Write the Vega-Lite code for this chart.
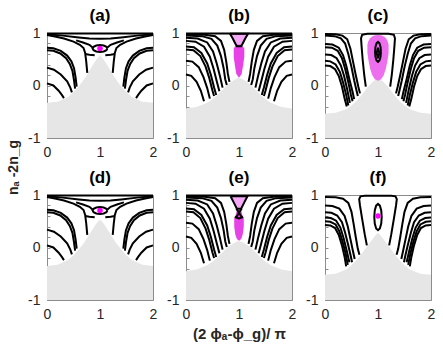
{
"$schema": "https://vega.github.io/schema/vega-lite/v6.json",
"padding": {"left": 5, "top": 6, "right": 0, "bottom": 0},
"autosize": {"type": "pad"},
"datasets": {
"grey": [
{"p":"a","x":0,"y":-0.33},{"p":"a","x":0.2,"y":-0.31},{"p":"a","x":0.4,"y":-0.22},{"p":"a","x":0.5,"y":-0.13},{"p":"a","x":0.6,"y":-0.02},{"p":"a","x":0.7,"y":0.12},{"p":"a","x":0.8,"y":0.28},{"p":"a","x":0.9,"y":0.45},{"p":"a","x":0.95,"y":0.52},{"p":"a","x":1,"y":0.57},{"p":"a","x":1.05,"y":0.52},{"p":"a","x":1.1,"y":0.45},{"p":"a","x":1.2,"y":0.28},{"p":"a","x":1.3,"y":0.12},{"p":"a","x":1.4,"y":-0.02},{"p":"a","x":1.5,"y":-0.13},{"p":"a","x":1.6,"y":-0.22},{"p":"a","x":1.8,"y":-0.31},{"p":"a","x":2,"y":-0.33},
{"p":"b","x":0,"y":-0.44},{"p":"b","x":0.2,"y":-0.41},{"p":"b","x":0.4,"y":-0.33},{"p":"b","x":0.5,"y":-0.26},{"p":"b","x":0.6,"y":-0.17},{"p":"b","x":0.7,"y":-0.07},{"p":"b","x":0.8,"y":0.03},{"p":"b","x":0.9,"y":0.1},{"p":"b","x":0.95,"y":0.13},{"p":"b","x":1,"y":0.15},{"p":"b","x":1.05,"y":0.13},{"p":"b","x":1.1,"y":0.1},{"p":"b","x":1.2,"y":0.03},{"p":"b","x":1.3,"y":-0.07},{"p":"b","x":1.4,"y":-0.17},{"p":"b","x":1.5,"y":-0.26},{"p":"b","x":1.6,"y":-0.33},{"p":"b","x":1.8,"y":-0.41},{"p":"b","x":2,"y":-0.44},
{"p":"c","x":0,"y":-0.54},{"p":"c","x":0.2,"y":-0.52},{"p":"c","x":0.4,"y":-0.45},{"p":"c","x":0.5,"y":-0.38},{"p":"c","x":0.6,"y":-0.29},{"p":"c","x":0.7,"y":-0.17},{"p":"c","x":0.8,"y":-0.04},{"p":"c","x":0.9,"y":0.07},{"p":"c","x":0.95,"y":0.11},{"p":"c","x":1,"y":0.13},{"p":"c","x":1.05,"y":0.11},{"p":"c","x":1.1,"y":0.07},{"p":"c","x":1.2,"y":-0.04},{"p":"c","x":1.3,"y":-0.17},{"p":"c","x":1.4,"y":-0.29},{"p":"c","x":1.5,"y":-0.38},{"p":"c","x":1.6,"y":-0.45},{"p":"c","x":1.8,"y":-0.52},{"p":"c","x":2,"y":-0.54},
{"p":"d","x":0,"y":-0.35},{"p":"d","x":0.2,"y":-0.33},{"p":"d","x":0.4,"y":-0.24},{"p":"d","x":0.5,"y":-0.15},{"p":"d","x":0.6,"y":-0.04},{"p":"d","x":0.7,"y":0.09},{"p":"d","x":0.8,"y":0.25},{"p":"d","x":0.9,"y":0.41},{"p":"d","x":0.95,"y":0.48},{"p":"d","x":1,"y":0.53},{"p":"d","x":1.05,"y":0.48},{"p":"d","x":1.1,"y":0.41},{"p":"d","x":1.2,"y":0.25},{"p":"d","x":1.3,"y":0.09},{"p":"d","x":1.4,"y":-0.04},{"p":"d","x":1.5,"y":-0.15},{"p":"d","x":1.6,"y":-0.24},{"p":"d","x":1.8,"y":-0.33},{"p":"d","x":2,"y":-0.35},
{"p":"e","x":0,"y":-0.45},{"p":"e","x":0.2,"y":-0.42},{"p":"e","x":0.4,"y":-0.34},{"p":"e","x":0.5,"y":-0.27},{"p":"e","x":0.6,"y":-0.18},{"p":"e","x":0.7,"y":-0.08},{"p":"e","x":0.8,"y":0.02},{"p":"e","x":0.9,"y":0.08},{"p":"e","x":0.95,"y":0.11},{"p":"e","x":1,"y":0.12},{"p":"e","x":1.05,"y":0.11},{"p":"e","x":1.1,"y":0.08},{"p":"e","x":1.2,"y":0.02},{"p":"e","x":1.3,"y":-0.08},{"p":"e","x":1.4,"y":-0.18},{"p":"e","x":1.5,"y":-0.27},{"p":"e","x":1.6,"y":-0.34},{"p":"e","x":1.8,"y":-0.42},{"p":"e","x":2,"y":-0.45},
{"p":"f","x":0,"y":-0.52},{"p":"f","x":0.2,"y":-0.5},{"p":"f","x":0.4,"y":-0.42},{"p":"f","x":0.5,"y":-0.34},{"p":"f","x":0.6,"y":-0.24},{"p":"f","x":0.7,"y":-0.11},{"p":"f","x":0.8,"y":0.03},{"p":"f","x":0.9,"y":0.16},{"p":"f","x":0.95,"y":0.23},{"p":"f","x":1,"y":0.28},{"p":"f","x":1.05,"y":0.23},{"p":"f","x":1.1,"y":0.16},{"p":"f","x":1.2,"y":0.03},{"p":"f","x":1.3,"y":-0.11},{"p":"f","x":1.4,"y":-0.24},{"p":"f","x":1.5,"y":-0.34},{"p":"f","x":1.6,"y":-0.42},{"p":"f","x":1.8,"y":-0.5},{"p":"f","x":2,"y":-0.52}
],
"pink": [
{"p":"b","part":"light","x":0.85,"y":0.95,"y2":0.98},{"p":"b","part":"light","x":0.88,"y":0.89,"y2":0.98},{"p":"b","part":"light","x":0.92,"y":0.82,"y2":0.98},{"p":"b","part":"light","x":0.96,"y":0.76,"y2":0.98},{"p":"b","part":"light","x":1,"y":0.75,"y2":0.98},{"p":"b","part":"light","x":1.04,"y":0.76,"y2":0.98},{"p":"b","part":"light","x":1.08,"y":0.82,"y2":0.98},{"p":"b","part":"light","x":1.12,"y":0.89,"y2":0.98},{"p":"b","part":"light","x":1.15,"y":0.95,"y2":0.98},
{"p":"b","part":"dense","x":0.9,"y":0.55,"y2":0.7},{"p":"b","part":"dense","x":0.92,"y":0.4,"y2":0.74},{"p":"b","part":"dense","x":0.95,"y":0.22,"y2":0.77},{"p":"b","part":"dense","x":1,"y":0.15,"y2":0.78},{"p":"b","part":"dense","x":1.05,"y":0.22,"y2":0.77},{"p":"b","part":"dense","x":1.08,"y":0.4,"y2":0.74},{"p":"b","part":"dense","x":1.1,"y":0.55,"y2":0.7},
{"p":"c","part":"mid","x":0.8,"y":0.62,"y2":0.78},{"p":"c","part":"mid","x":0.82,"y":0.48,"y2":0.85},{"p":"c","part":"mid","x":0.85,"y":0.33,"y2":0.9},{"p":"c","part":"mid","x":0.89,"y":0.2,"y2":0.935},{"p":"c","part":"mid","x":0.94,"y":0.12,"y2":0.955},{"p":"c","part":"mid","x":1,"y":0.09,"y2":0.96},{"p":"c","part":"mid","x":1.06,"y":0.12,"y2":0.955},{"p":"c","part":"mid","x":1.11,"y":0.2,"y2":0.935},{"p":"c","part":"mid","x":1.15,"y":0.33,"y2":0.9},{"p":"c","part":"mid","x":1.18,"y":0.48,"y2":0.85},{"p":"c","part":"mid","x":1.2,"y":0.62,"y2":0.78},
{"p":"e","part":"light","x":0.86,"y":0.94,"y2":0.97},{"p":"e","part":"light","x":0.9,"y":0.86,"y2":0.97},{"p":"e","part":"light","x":0.95,"y":0.76,"y2":0.97},{"p":"e","part":"light","x":1,"y":0.74,"y2":0.97},{"p":"e","part":"light","x":1.05,"y":0.76,"y2":0.97},{"p":"e","part":"light","x":1.1,"y":0.86,"y2":0.97},{"p":"e","part":"light","x":1.14,"y":0.94,"y2":0.97},
{"p":"e","part":"dense","x":0.91,"y":0.4,"y2":0.55},{"p":"e","part":"dense","x":0.93,"y":0.25,"y2":0.6},{"p":"e","part":"dense","x":0.96,"y":0.16,"y2":0.7},{"p":"e","part":"dense","x":1,"y":0.13,"y2":0.72},{"p":"e","part":"dense","x":1.04,"y":0.16,"y2":0.7},{"p":"e","part":"dense","x":1.07,"y":0.25,"y2":0.6},{"p":"e","part":"dense","x":1.09,"y":0.4,"y2":0.55}
],
"dots": [{"p":"ad","x":1,"y":0.705},{"p":"f","x":1,"y":0.6}],
"curves": [
{"p":"ad","c":"top","x":0,"y":0.99},{"p":"ad","c":"top","x":2,"y":0.99},
{"p":"ad","c":"arc","x":0,"y":0.975},{"p":"ad","c":"arc","x":0.3,"y":0.95},{"p":"ad","c":"arc","x":0.6,"y":0.915},{"p":"ad","c":"arc","x":0.8,"y":0.895},{"p":"ad","c":"arc","x":1,"y":0.89},{"p":"ad","c":"arc","x":1.2,"y":0.895},{"p":"ad","c":"arc","x":1.4,"y":0.915},{"p":"ad","c":"arc","x":1.7,"y":0.95},{"p":"ad","c":"arc","x":2,"y":0.975},
{"p":"ad","c":"sepL","x":0,"y":0.96},{"p":"ad","c":"sepL","x":0.15,"y":0.935},{"p":"ad","c":"sepL","x":0.32,"y":0.895},{"p":"ad","c":"sepL","x":0.5,"y":0.835},{"p":"ad","c":"sepL","x":0.62,"y":0.775},{"p":"ad","c":"sepL","x":0.69,"y":0.715},{"p":"ad","c":"sepL","x":0.72,"y":0.62},{"p":"ad","c":"sepL","x":0.74,"y":0.46},{"p":"ad","c":"sepL","x":0.76,"y":0.24},
{"p":"ad","c":"sepR","x":2,"y":0.96},{"p":"ad","c":"sepR","x":1.85,"y":0.935},{"p":"ad","c":"sepR","x":1.68,"y":0.895},{"p":"ad","c":"sepR","x":1.5,"y":0.835},{"p":"ad","c":"sepR","x":1.38,"y":0.775},{"p":"ad","c":"sepR","x":1.31,"y":0.715},{"p":"ad","c":"sepR","x":1.28,"y":0.62},{"p":"ad","c":"sepR","x":1.26,"y":0.46},{"p":"ad","c":"sepR","x":1.24,"y":0.24},
{"p":"ad","c":"wingL","x":0.55,"y":0.86},{"p":"ad","c":"wingL","x":0.68,"y":0.82},{"p":"ad","c":"wingL","x":0.8,"y":0.775},{"p":"ad","c":"wingL","x":0.86,"y":0.725},
{"p":"ad","c":"wingR","x":1.45,"y":0.86},{"p":"ad","c":"wingR","x":1.32,"y":0.82},{"p":"ad","c":"wingR","x":1.2,"y":0.775},{"p":"ad","c":"wingR","x":1.14,"y":0.725},
{"p":"ad","c":"lowL","x":0.72,"y":0.6},{"p":"ad","c":"lowL","x":0.8,"y":0.585},{"p":"ad","c":"lowL","x":0.9,"y":0.575},
{"p":"ad","c":"lowR","x":1.28,"y":0.6},{"p":"ad","c":"lowR","x":1.2,"y":0.585},{"p":"ad","c":"lowR","x":1.1,"y":0.575},
{"p":"ad","c":"eye","x":1.14,"y":0.705},{"p":"ad","c":"eye","x":1.121,"y":0.738},{"p":"ad","c":"eye","x":1.07,"y":0.761},{"p":"ad","c":"eye","x":1,"y":0.77},{"p":"ad","c":"eye","x":0.93,"y":0.761},{"p":"ad","c":"eye","x":0.879,"y":0.738},{"p":"ad","c":"eye","x":0.86,"y":0.705},{"p":"ad","c":"eye","x":0.879,"y":0.673},{"p":"ad","c":"eye","x":0.93,"y":0.649},{"p":"ad","c":"eye","x":1,"y":0.64},{"p":"ad","c":"eye","x":1.07,"y":0.649},{"p":"ad","c":"eye","x":1.121,"y":0.673},{"p":"ad","c":"eye","x":1.14,"y":0.705},
{"p":"ad","c":"L1","x":0,"y":0.72},{"p":"ad","c":"L1","x":0.12,"y":0.71},{"p":"ad","c":"L1","x":0.26,"y":0.66},{"p":"ad","c":"L1","x":0.38,"y":0.57},{"p":"ad","c":"L1","x":0.46,"y":0.46},{"p":"ad","c":"L1","x":0.51,"y":0.33},{"p":"ad","c":"L1","x":0.54,"y":0.15},{"p":"ad","c":"L1","x":0.56,"y":-0.02},
{"p":"ad","c":"L2","x":0,"y":0.67},{"p":"ad","c":"L2","x":0.12,"y":0.66},{"p":"ad","c":"L2","x":0.25,"y":0.61},{"p":"ad","c":"L2","x":0.36,"y":0.52},{"p":"ad","c":"L2","x":0.43,"y":0.41},{"p":"ad","c":"L2","x":0.48,"y":0.28},{"p":"ad","c":"L2","x":0.51,"y":0.1},{"p":"ad","c":"L2","x":0.53,"y":-0.06},
{"p":"ad","c":"L3","x":0,"y":0.34},{"p":"ad","c":"L3","x":0.13,"y":0.3},{"p":"ad","c":"L3","x":0.26,"y":0.21},{"p":"ad","c":"L3","x":0.38,"y":0.08},{"p":"ad","c":"L3","x":0.44,"y":-0.04},{"p":"ad","c":"L3","x":0.47,"y":-0.13},
{"p":"ad","c":"L4","x":0,"y":0.04},{"p":"ad","c":"L4","x":0.12,"y":0},{"p":"ad","c":"L4","x":0.22,"y":-0.1},{"p":"ad","c":"L4","x":0.28,"y":-0.18},{"p":"ad","c":"L4","x":0.32,"y":-0.24},
{"p":"ad","c":"R1","x":2,"y":0.72},{"p":"ad","c":"R1","x":1.88,"y":0.71},{"p":"ad","c":"R1","x":1.74,"y":0.66},{"p":"ad","c":"R1","x":1.62,"y":0.57},{"p":"ad","c":"R1","x":1.54,"y":0.46},{"p":"ad","c":"R1","x":1.49,"y":0.33},{"p":"ad","c":"R1","x":1.46,"y":0.15},{"p":"ad","c":"R1","x":1.44,"y":-0.02},
{"p":"ad","c":"R2","x":2,"y":0.67},{"p":"ad","c":"R2","x":1.88,"y":0.66},{"p":"ad","c":"R2","x":1.75,"y":0.61},{"p":"ad","c":"R2","x":1.64,"y":0.52},{"p":"ad","c":"R2","x":1.57,"y":0.41},{"p":"ad","c":"R2","x":1.52,"y":0.28},{"p":"ad","c":"R2","x":1.49,"y":0.1},{"p":"ad","c":"R2","x":1.47,"y":-0.06},
{"p":"ad","c":"R3","x":2,"y":0.34},{"p":"ad","c":"R3","x":1.87,"y":0.3},{"p":"ad","c":"R3","x":1.74,"y":0.21},{"p":"ad","c":"R3","x":1.62,"y":0.08},{"p":"ad","c":"R3","x":1.56,"y":-0.04},{"p":"ad","c":"R3","x":1.53,"y":-0.13},
{"p":"ad","c":"R4","x":2,"y":0.04},{"p":"ad","c":"R4","x":1.88,"y":0},{"p":"ad","c":"R4","x":1.78,"y":-0.1},{"p":"ad","c":"R4","x":1.72,"y":-0.18},{"p":"ad","c":"R4","x":1.68,"y":-0.24},
{"p":"be","c":"top","x":0,"y":0.99},{"p":"be","c":"top","x":2,"y":0.99},
{"p":"be","c":"b1","x":0,"y":0.975},{"p":"be","c":"b1","x":0.35,"y":0.965},{"p":"be","c":"b1","x":0.55,"y":0.94},{"p":"be","c":"b1","x":0.66,"y":0.85},{"p":"be","c":"b1","x":0.72,"y":0.68},{"p":"be","c":"b1","x":0.76,"y":0.45},{"p":"be","c":"b1","x":0.79,"y":0.22},{"p":"be","c":"b1","x":0.82,"y":0.07},
{"p":"be","c":"b2","x":0,"y":0.95},{"p":"be","c":"b2","x":0.3,"y":0.94},{"p":"be","c":"b2","x":0.48,"y":0.89},{"p":"be","c":"b2","x":0.59,"y":0.76},{"p":"be","c":"b2","x":0.66,"y":0.56},{"p":"be","c":"b2","x":0.71,"y":0.33},{"p":"be","c":"b2","x":0.74,"y":0.12},{"p":"be","c":"b2","x":0.77,"y":0.01},
{"p":"be","c":"b3","x":0,"y":0.91},{"p":"be","c":"b3","x":0.22,"y":0.895},{"p":"be","c":"b3","x":0.4,"y":0.82},{"p":"be","c":"b3","x":0.51,"y":0.65},{"p":"be","c":"b3","x":0.58,"y":0.42},{"p":"be","c":"b3","x":0.64,"y":0.18},{"p":"be","c":"b3","x":0.69,"y":-0.04},
{"p":"be","c":"b4","x":0,"y":0.85},{"p":"be","c":"b4","x":0.18,"y":0.835},{"p":"be","c":"b4","x":0.34,"y":0.74},{"p":"be","c":"b4","x":0.45,"y":0.55},{"p":"be","c":"b4","x":0.52,"y":0.32},{"p":"be","c":"b4","x":0.58,"y":0.08},{"p":"be","c":"b4","x":0.63,"y":-0.11},
{"p":"be","c":"b5","x":0,"y":0.745},{"p":"be","c":"b5","x":0.15,"y":0.73},{"p":"be","c":"b5","x":0.29,"y":0.62},{"p":"be","c":"b5","x":0.4,"y":0.42},{"p":"be","c":"b5","x":0.47,"y":0.2},{"p":"be","c":"b5","x":0.53,"y":-0.04},{"p":"be","c":"b5","x":0.57,"y":-0.18},
{"p":"be","c":"b6","x":0,"y":0.685},{"p":"be","c":"b6","x":0.14,"y":0.67},{"p":"be","c":"b6","x":0.27,"y":0.56},{"p":"be","c":"b6","x":0.37,"y":0.36},{"p":"be","c":"b6","x":0.44,"y":0.14},{"p":"be","c":"b6","x":0.5,"y":-0.1},{"p":"be","c":"b6","x":0.53,"y":-0.2},
{"p":"be","c":"b7","x":0,"y":0.47},{"p":"be","c":"b7","x":0.12,"y":0.455},{"p":"be","c":"b7","x":0.24,"y":0.35},{"p":"be","c":"b7","x":0.33,"y":0.16},{"p":"be","c":"b7","x":0.4,"y":-0.05},{"p":"be","c":"b7","x":0.45,"y":-0.25},
{"p":"be","c":"b8","x":0,"y":0.21},{"p":"be","c":"b8","x":0.1,"y":0.185},{"p":"be","c":"b8","x":0.2,"y":0.07},{"p":"be","c":"b8","x":0.28,"y":-0.1},{"p":"be","c":"b8","x":0.34,"y":-0.3},
{"p":"be","c":"B1","x":2,"y":0.975},{"p":"be","c":"B1","x":1.65,"y":0.965},{"p":"be","c":"B1","x":1.45,"y":0.94},{"p":"be","c":"B1","x":1.34,"y":0.85},{"p":"be","c":"B1","x":1.28,"y":0.68},{"p":"be","c":"B1","x":1.24,"y":0.45},{"p":"be","c":"B1","x":1.21,"y":0.22},{"p":"be","c":"B1","x":1.18,"y":0.07},
{"p":"be","c":"B2","x":2,"y":0.95},{"p":"be","c":"B2","x":1.7,"y":0.94},{"p":"be","c":"B2","x":1.52,"y":0.89},{"p":"be","c":"B2","x":1.41,"y":0.76},{"p":"be","c":"B2","x":1.34,"y":0.56},{"p":"be","c":"B2","x":1.29,"y":0.33},{"p":"be","c":"B2","x":1.26,"y":0.12},{"p":"be","c":"B2","x":1.23,"y":0.01},
{"p":"be","c":"B3","x":2,"y":0.91},{"p":"be","c":"B3","x":1.78,"y":0.895},{"p":"be","c":"B3","x":1.6,"y":0.82},{"p":"be","c":"B3","x":1.49,"y":0.65},{"p":"be","c":"B3","x":1.42,"y":0.42},{"p":"be","c":"B3","x":1.36,"y":0.18},{"p":"be","c":"B3","x":1.31,"y":-0.04},
{"p":"be","c":"B4","x":2,"y":0.85},{"p":"be","c":"B4","x":1.82,"y":0.835},{"p":"be","c":"B4","x":1.66,"y":0.74},{"p":"be","c":"B4","x":1.55,"y":0.55},{"p":"be","c":"B4","x":1.48,"y":0.32},{"p":"be","c":"B4","x":1.42,"y":0.08},{"p":"be","c":"B4","x":1.37,"y":-0.11},
{"p":"be","c":"B5","x":2,"y":0.745},{"p":"be","c":"B5","x":1.85,"y":0.73},{"p":"be","c":"B5","x":1.71,"y":0.62},{"p":"be","c":"B5","x":1.6,"y":0.42},{"p":"be","c":"B5","x":1.53,"y":0.2},{"p":"be","c":"B5","x":1.47,"y":-0.04},{"p":"be","c":"B5","x":1.43,"y":-0.18},
{"p":"be","c":"B6","x":2,"y":0.685},{"p":"be","c":"B6","x":1.86,"y":0.67},{"p":"be","c":"B6","x":1.73,"y":0.56},{"p":"be","c":"B6","x":1.63,"y":0.36},{"p":"be","c":"B6","x":1.56,"y":0.14},{"p":"be","c":"B6","x":1.5,"y":-0.1},{"p":"be","c":"B6","x":1.47,"y":-0.2},
{"p":"be","c":"B7","x":2,"y":0.47},{"p":"be","c":"B7","x":1.88,"y":0.455},{"p":"be","c":"B7","x":1.76,"y":0.35},{"p":"be","c":"B7","x":1.67,"y":0.16},{"p":"be","c":"B7","x":1.6,"y":-0.05},{"p":"be","c":"B7","x":1.55,"y":-0.25},
{"p":"be","c":"B8","x":2,"y":0.21},{"p":"be","c":"B8","x":1.9,"y":0.185},{"p":"be","c":"B8","x":1.8,"y":0.07},{"p":"be","c":"B8","x":1.72,"y":-0.1},{"p":"be","c":"B8","x":1.66,"y":-0.3},
{"p":"b","c":"cup","x":0.83,"y":0.985},{"p":"b","c":"cup","x":0.88,"y":0.9},{"p":"b","c":"cup","x":0.93,"y":0.8},{"p":"b","c":"cup","x":0.96,"y":0.75},{"p":"b","c":"cup","x":1.04,"y":0.75},{"p":"b","c":"cup","x":1.07,"y":0.8},{"p":"b","c":"cup","x":1.12,"y":0.9},{"p":"b","c":"cup","x":1.17,"y":0.985},{"p":"b","c":"cup","x":0.83,"y":0.985},
{"p":"e","c":"tri","x":0.84,"y":0.975},{"p":"e","c":"tri","x":0.9,"y":0.86},{"p":"e","c":"tri","x":0.96,"y":0.74},{"p":"e","c":"tri","x":1.04,"y":0.74},{"p":"e","c":"tri","x":1.1,"y":0.86},{"p":"e","c":"tri","x":1.16,"y":0.975},{"p":"e","c":"tri","x":0.84,"y":0.975},
{"p":"e","c":"x1","x":0.95,"y":0.74},{"p":"e","c":"x1","x":1.05,"y":0.58},
{"p":"e","c":"x2","x":1.05,"y":0.74},{"p":"e","c":"x2","x":0.95,"y":0.58},
{"p":"e","c":"arc","x":0.92,"y":0.58},{"p":"e","c":"arc","x":1,"y":0.555},{"p":"e","c":"arc","x":1.08,"y":0.58},
{"p":"c","c":"c1","x":0,"y":0.98},{"p":"c","c":"c1","x":0.2,"y":0.975},{"p":"c","c":"c1","x":0.33,"y":0.95},{"p":"c","c":"c1","x":0.42,"y":0.88},{"p":"c","c":"c1","x":0.48,"y":0.7},{"p":"c","c":"c1","x":0.53,"y":0.45},{"p":"c","c":"c1","x":0.58,"y":0.2},{"p":"c","c":"c1","x":0.63,"y":-0.03},{"p":"c","c":"c1","x":0.66,"y":-0.15},
{"p":"c","c":"c2","x":0,"y":0.95},{"p":"c","c":"c2","x":0.18,"y":0.94},{"p":"c","c":"c2","x":0.3,"y":0.9},{"p":"c","c":"c2","x":0.38,"y":0.8},{"p":"c","c":"c2","x":0.44,"y":0.6},{"p":"c","c":"c2","x":0.5,"y":0.35},{"p":"c","c":"c2","x":0.55,"y":0.1},{"p":"c","c":"c2","x":0.6,"y":-0.12},{"p":"c","c":"c2","x":0.62,"y":-0.2},
{"p":"c","c":"c3","x":0,"y":0.79},{"p":"c","c":"c3","x":0.14,"y":0.78},{"p":"c","c":"c3","x":0.26,"y":0.72},{"p":"c","c":"c3","x":0.34,"y":0.58},{"p":"c","c":"c3","x":0.4,"y":0.38},{"p":"c","c":"c3","x":0.46,"y":0.12},{"p":"c","c":"c3","x":0.52,"y":-0.12},{"p":"c","c":"c3","x":0.55,"y":-0.26},
{"p":"c","c":"c4","x":0,"y":0.73},{"p":"c","c":"c4","x":0.13,"y":0.72},{"p":"c","c":"c4","x":0.24,"y":0.66},{"p":"c","c":"c4","x":0.32,"y":0.52},{"p":"c","c":"c4","x":0.38,"y":0.32},{"p":"c","c":"c4","x":0.44,"y":0.06},{"p":"c","c":"c4","x":0.49,"y":-0.18},{"p":"c","c":"c4","x":0.52,"y":-0.3},
{"p":"c","c":"c5","x":0,"y":0.59},{"p":"c","c":"c5","x":0.12,"y":0.58},{"p":"c","c":"c5","x":0.22,"y":0.52},{"p":"c","c":"c5","x":0.3,"y":0.38},{"p":"c","c":"c5","x":0.36,"y":0.18},{"p":"c","c":"c5","x":0.42,"y":-0.08},{"p":"c","c":"c5","x":0.47,"y":-0.33},
{"p":"c","c":"c6","x":0,"y":0.47},{"p":"c","c":"c6","x":0.1,"y":0.46},{"p":"c","c":"c6","x":0.2,"y":0.4},{"p":"c","c":"c6","x":0.28,"y":0.26},{"p":"c","c":"c6","x":0.34,"y":0.06},{"p":"c","c":"c6","x":0.4,"y":-0.18},{"p":"c","c":"c6","x":0.44,"y":-0.38},
{"p":"c","c":"c7","x":0,"y":0.38},{"p":"c","c":"c7","x":0.1,"y":0.37},{"p":"c","c":"c7","x":0.19,"y":0.31},{"p":"c","c":"c7","x":0.26,"y":0.18},{"p":"c","c":"c7","x":0.32,"y":-0.02},{"p":"c","c":"c7","x":0.37,"y":-0.25},{"p":"c","c":"c7","x":0.41,"y":-0.4},
{"p":"c","c":"C1","x":2,"y":0.98},{"p":"c","c":"C1","x":1.8,"y":0.975},{"p":"c","c":"C1","x":1.67,"y":0.95},{"p":"c","c":"C1","x":1.58,"y":0.88},{"p":"c","c":"C1","x":1.52,"y":0.7},{"p":"c","c":"C1","x":1.47,"y":0.45},{"p":"c","c":"C1","x":1.42,"y":0.2},{"p":"c","c":"C1","x":1.37,"y":-0.03},{"p":"c","c":"C1","x":1.34,"y":-0.15},
{"p":"c","c":"C2","x":2,"y":0.95},{"p":"c","c":"C2","x":1.82,"y":0.94},{"p":"c","c":"C2","x":1.7,"y":0.9},{"p":"c","c":"C2","x":1.62,"y":0.8},{"p":"c","c":"C2","x":1.56,"y":0.6},{"p":"c","c":"C2","x":1.5,"y":0.35},{"p":"c","c":"C2","x":1.45,"y":0.1},{"p":"c","c":"C2","x":1.4,"y":-0.12},{"p":"c","c":"C2","x":1.38,"y":-0.2},
{"p":"c","c":"C3","x":2,"y":0.79},{"p":"c","c":"C3","x":1.86,"y":0.78},{"p":"c","c":"C3","x":1.74,"y":0.72},{"p":"c","c":"C3","x":1.66,"y":0.58},{"p":"c","c":"C3","x":1.6,"y":0.38},{"p":"c","c":"C3","x":1.54,"y":0.12},{"p":"c","c":"C3","x":1.48,"y":-0.12},{"p":"c","c":"C3","x":1.45,"y":-0.26},
{"p":"c","c":"C4","x":2,"y":0.73},{"p":"c","c":"C4","x":1.87,"y":0.72},{"p":"c","c":"C4","x":1.76,"y":0.66},{"p":"c","c":"C4","x":1.68,"y":0.52},{"p":"c","c":"C4","x":1.62,"y":0.32},{"p":"c","c":"C4","x":1.56,"y":0.06},{"p":"c","c":"C4","x":1.51,"y":-0.18},{"p":"c","c":"C4","x":1.48,"y":-0.3},
{"p":"c","c":"C5","x":2,"y":0.59},{"p":"c","c":"C5","x":1.88,"y":0.58},{"p":"c","c":"C5","x":1.78,"y":0.52},{"p":"c","c":"C5","x":1.7,"y":0.38},{"p":"c","c":"C5","x":1.64,"y":0.18},{"p":"c","c":"C5","x":1.58,"y":-0.08},{"p":"c","c":"C5","x":1.53,"y":-0.33},
{"p":"c","c":"C6","x":2,"y":0.47},{"p":"c","c":"C6","x":1.9,"y":0.46},{"p":"c","c":"C6","x":1.8,"y":0.4},{"p":"c","c":"C6","x":1.72,"y":0.26},{"p":"c","c":"C6","x":1.66,"y":0.06},{"p":"c","c":"C6","x":1.6,"y":-0.18},{"p":"c","c":"C6","x":1.56,"y":-0.38},
{"p":"c","c":"C7","x":2,"y":0.38},{"p":"c","c":"C7","x":1.9,"y":0.37},{"p":"c","c":"C7","x":1.81,"y":0.31},{"p":"c","c":"C7","x":1.74,"y":0.18},{"p":"c","c":"C7","x":1.68,"y":-0.02},{"p":"c","c":"C7","x":1.63,"y":-0.25},{"p":"c","c":"C7","x":1.59,"y":-0.4},
{"p":"c","c":"U","x":0.77,"y":-0.02},{"p":"c","c":"U","x":0.74,"y":0.2},{"p":"c","c":"U","x":0.71,"y":0.5},{"p":"c","c":"U","x":0.69,"y":0.75},{"p":"c","c":"U","x":0.68,"y":0.9},{"p":"c","c":"U","x":0.7,"y":0.965},{"p":"c","c":"U","x":0.8,"y":0.985},{"p":"c","c":"U","x":1.2,"y":0.985},{"p":"c","c":"U","x":1.3,"y":0.965},{"p":"c","c":"U","x":1.32,"y":0.9},{"p":"c","c":"U","x":1.31,"y":0.75},{"p":"c","c":"U","x":1.29,"y":0.5},{"p":"c","c":"U","x":1.26,"y":0.2},{"p":"c","c":"U","x":1.23,"y":-0.02},
{"p":"c","c":"loop1","x":1.055,"y":0.64},{"p":"c","c":"loop1","x":1.048,"y":0.735},{"p":"c","c":"loop1","x":1.028,"y":0.805},{"p":"c","c":"loop1","x":1,"y":0.83},{"p":"c","c":"loop1","x":0.972,"y":0.805},{"p":"c","c":"loop1","x":0.952,"y":0.735},{"p":"c","c":"loop1","x":0.945,"y":0.64},{"p":"c","c":"loop1","x":0.952,"y":0.545},{"p":"c","c":"loop1","x":0.972,"y":0.475},{"p":"c","c":"loop1","x":1,"y":0.45},{"p":"c","c":"loop1","x":1.028,"y":0.475},{"p":"c","c":"loop1","x":1.048,"y":0.545},{"p":"c","c":"loop1","x":1.055,"y":0.64},
{"p":"c","c":"loop2","x":1.025,"y":0.62},{"p":"c","c":"loop2","x":1,"y":0.72},{"p":"c","c":"loop2","x":0.975,"y":0.62},{"p":"c","c":"loop2","x":1,"y":0.52},{"p":"c","c":"loop2","x":1.025,"y":0.62},
{"p":"f","c":"f1","x":0,"y":0.96},{"p":"f","c":"f1","x":0.2,"y":0.955},{"p":"f","c":"f1","x":0.34,"y":0.93},{"p":"f","c":"f1","x":0.44,"y":0.85},{"p":"f","c":"f1","x":0.5,"y":0.68},{"p":"f","c":"f1","x":0.54,"y":0.45},{"p":"f","c":"f1","x":0.58,"y":0.2},{"p":"f","c":"f1","x":0.62,"y":-0.03},{"p":"f","c":"f1","x":0.65,"y":-0.14},
{"p":"f","c":"f2","x":0,"y":0.8},{"p":"f","c":"f2","x":0.14,"y":0.79},{"p":"f","c":"f2","x":0.27,"y":0.74},{"p":"f","c":"f2","x":0.37,"y":0.6},{"p":"f","c":"f2","x":0.43,"y":0.4},{"p":"f","c":"f2","x":0.48,"y":0.16},{"p":"f","c":"f2","x":0.53,"y":-0.08},{"p":"f","c":"f2","x":0.56,"y":-0.22},
{"p":"f","c":"f3","x":0,"y":0.67},{"p":"f","c":"f3","x":0.12,"y":0.66},{"p":"f","c":"f3","x":0.23,"y":0.61},{"p":"f","c":"f3","x":0.32,"y":0.48},{"p":"f","c":"f3","x":0.38,"y":0.28},{"p":"f","c":"f3","x":0.44,"y":0.04},{"p":"f","c":"f3","x":0.49,"y":-0.18},{"p":"f","c":"f3","x":0.51,"y":-0.28},
{"p":"f","c":"f4","x":0,"y":0.57},{"p":"f","c":"f4","x":0.11,"y":0.56},{"p":"f","c":"f4","x":0.21,"y":0.51},{"p":"f","c":"f4","x":0.29,"y":0.38},{"p":"f","c":"f4","x":0.35,"y":0.18},{"p":"f","c":"f4","x":0.41,"y":-0.06},{"p":"f","c":"f4","x":0.46,"y":-0.28},
{"p":"f","c":"f5","x":0,"y":0.5},{"p":"f","c":"f5","x":0.1,"y":0.49},{"p":"f","c":"f5","x":0.2,"y":0.44},{"p":"f","c":"f5","x":0.27,"y":0.31},{"p":"f","c":"f5","x":0.33,"y":0.12},{"p":"f","c":"f5","x":0.39,"y":-0.12},{"p":"f","c":"f5","x":0.43,"y":-0.33},
{"p":"f","c":"f6","x":0,"y":0.43},{"p":"f","c":"f6","x":0.1,"y":0.42},{"p":"f","c":"f6","x":0.19,"y":0.37},{"p":"f","c":"f6","x":0.26,"y":0.24},{"p":"f","c":"f6","x":0.32,"y":0.04},{"p":"f","c":"f6","x":0.37,"y":-0.18},{"p":"f","c":"f6","x":0.4,"y":-0.36},
{"p":"f","c":"F1","x":2,"y":0.96},{"p":"f","c":"F1","x":1.8,"y":0.955},{"p":"f","c":"F1","x":1.66,"y":0.93},{"p":"f","c":"F1","x":1.56,"y":0.85},{"p":"f","c":"F1","x":1.5,"y":0.68},{"p":"f","c":"F1","x":1.46,"y":0.45},{"p":"f","c":"F1","x":1.42,"y":0.2},{"p":"f","c":"F1","x":1.38,"y":-0.03},{"p":"f","c":"F1","x":1.35,"y":-0.14},
{"p":"f","c":"F2","x":2,"y":0.8},{"p":"f","c":"F2","x":1.86,"y":0.79},{"p":"f","c":"F2","x":1.73,"y":0.74},{"p":"f","c":"F2","x":1.63,"y":0.6},{"p":"f","c":"F2","x":1.57,"y":0.4},{"p":"f","c":"F2","x":1.52,"y":0.16},{"p":"f","c":"F2","x":1.47,"y":-0.08},{"p":"f","c":"F2","x":1.44,"y":-0.22},
{"p":"f","c":"F3","x":2,"y":0.67},{"p":"f","c":"F3","x":1.88,"y":0.66},{"p":"f","c":"F3","x":1.77,"y":0.61},{"p":"f","c":"F3","x":1.68,"y":0.48},{"p":"f","c":"F3","x":1.62,"y":0.28},{"p":"f","c":"F3","x":1.56,"y":0.04},{"p":"f","c":"F3","x":1.51,"y":-0.18},{"p":"f","c":"F3","x":1.49,"y":-0.28},
{"p":"f","c":"F4","x":2,"y":0.57},{"p":"f","c":"F4","x":1.89,"y":0.56},{"p":"f","c":"F4","x":1.79,"y":0.51},{"p":"f","c":"F4","x":1.71,"y":0.38},{"p":"f","c":"F4","x":1.65,"y":0.18},{"p":"f","c":"F4","x":1.59,"y":-0.06},{"p":"f","c":"F4","x":1.54,"y":-0.28},
{"p":"f","c":"F5","x":2,"y":0.5},{"p":"f","c":"F5","x":1.9,"y":0.49},{"p":"f","c":"F5","x":1.8,"y":0.44},{"p":"f","c":"F5","x":1.73,"y":0.31},{"p":"f","c":"F5","x":1.67,"y":0.12},{"p":"f","c":"F5","x":1.61,"y":-0.12},{"p":"f","c":"F5","x":1.57,"y":-0.33},
{"p":"f","c":"F6","x":2,"y":0.43},{"p":"f","c":"F6","x":1.9,"y":0.42},{"p":"f","c":"F6","x":1.81,"y":0.37},{"p":"f","c":"F6","x":1.74,"y":0.24},{"p":"f","c":"F6","x":1.68,"y":0.04},{"p":"f","c":"F6","x":1.63,"y":-0.18},{"p":"f","c":"F6","x":1.6,"y":-0.36},
{"p":"f","c":"U","x":0.79,"y":0.04},{"p":"f","c":"U","x":0.75,"y":0.25},{"p":"f","c":"U","x":0.7,"y":0.55},{"p":"f","c":"U","x":0.66,"y":0.8},{"p":"f","c":"U","x":0.645,"y":0.92},{"p":"f","c":"U","x":0.67,"y":0.975},{"p":"f","c":"U","x":0.75,"y":0.985},{"p":"f","c":"U","x":1.25,"y":0.985},{"p":"f","c":"U","x":1.33,"y":0.975},{"p":"f","c":"U","x":1.355,"y":0.92},{"p":"f","c":"U","x":1.34,"y":0.8},{"p":"f","c":"U","x":1.3,"y":0.55},{"p":"f","c":"U","x":1.25,"y":0.25},{"p":"f","c":"U","x":1.21,"y":0.04},
{"p":"f","c":"loop","x":1.07,"y":0.58},{"p":"f","c":"loop","x":1.061,"y":0.705},{"p":"f","c":"loop","x":1.035,"y":0.797},{"p":"f","c":"loop","x":1,"y":0.83},{"p":"f","c":"loop","x":0.965,"y":0.797},{"p":"f","c":"loop","x":0.939,"y":0.705},{"p":"f","c":"loop","x":0.93,"y":0.58},{"p":"f","c":"loop","x":0.939,"y":0.455},{"p":"f","c":"loop","x":0.965,"y":0.363},{"p":"f","c":"loop","x":1,"y":0.33},{"p":"f","c":"loop","x":1.035,"y":0.363},{"p":"f","c":"loop","x":1.061,"y":0.455},{"p":"f","c":"loop","x":1.07,"y":0.58}
]
},
"columns": 3,
"spacing": {"row": 57, "column": 33},
"bounds": "flush",
"concat": [
{"width":106,"height":105,"title":"(a)",
"encoding":{"x":{"field":"x","type":"quantitative","scale":{"domain":[0,2]},"axis":{"title":null,"values":[0,0.2,0.4,0.6,0.8,1,1.2,1.4,1.6,1.8,2],"labelExpr":"datum.value == 0 ? '0' : datum.value == 1 ? '1' : datum.value == 2 ? '2' : ''"}},"y":{"field":"y","type":"quantitative","scale":{"domain":[-1,1]},"axis":{"title":"nₐ -2n_g","titleX":-27,"titleY":134,"titleAngle":-90,"titleAlign":"center","titleBaseline":"bottom","titleFontSize":14,"values":[-1,-0.8,-0.6,-0.4,-0.2,0,0.2,0.4,0.6,0.8,1],"labelExpr":"datum.value == -1 ? '-1' : datum.value == 0 ? '0' : datum.value == 1 ? '1' : ''"}}},
"layer":[
{"data":{"name":"grey"},"transform":[{"filter":"datum.p == 'a'"}],"mark":{"type":"area","color":"#e6e6e6"},"encoding":{"y2":{"datum":-1}}},
{"data":{"name":"curves"},"transform":[{"filter":"indexof(datum.p,'a') >= 0"}],"mark":{"type":"line","color":"#000","strokeWidth":2},"encoding":{"detail":{"field":"c"},"order":{"value":null}}},
{"data":{"name":"dots"},"transform":[{"filter":"indexof(datum.p,'a') >= 0"}],"mark":{"type":"point","filled":true,"color":"#ff00ff","opacity":1,"size":30},"encoding":{}}
]},
{"width":106,"height":105,"title":"(b)",
"encoding":{"x":{"field":"x","type":"quantitative","scale":{"domain":[0,2]},"axis":{"title":null,"values":[0,0.2,0.4,0.6,0.8,1,1.2,1.4,1.6,1.8,2],"labelExpr":"datum.value == 0 ? '0' : datum.value == 1 ? '1' : datum.value == 2 ? '2' : ''"}},"y":{"field":"y","type":"quantitative","scale":{"domain":[-1,1]},"axis":{"title":null,"values":[-1,-0.8,-0.6,-0.4,-0.2,0,0.2,0.4,0.6,0.8,1],"labelExpr":"datum.value == -1 ? '-1' : datum.value == 0 ? '0' : datum.value == 1 ? '1' : ''"}}},
"layer":[
{"data":{"name":"grey"},"transform":[{"filter":"datum.p == 'b'"}],"mark":{"type":"area","color":"#e6e6e6"},"encoding":{"y2":{"datum":-1}}},
{"data":{"name":"pink"},"transform":[{"filter":"datum.p == 'b'"}],"mark":{"type":"area","opacity":1},"encoding":{"y2":{"field":"y2"},"color":{"field":"part","type":"nominal","scale":{"domain":["light","mid","dense"],"range":["#f5a8f5","#ee6fee","#e642e6"]},"legend":null}}},
{"data":{"name":"curves"},"transform":[{"filter":"indexof(datum.p,'b') >= 0"}],"mark":{"type":"line","color":"#000","strokeWidth":2},"encoding":{"detail":{"field":"c"},"order":{"value":null}}}
]},
{"width":106,"height":105,"title":"(c)",
"encoding":{"x":{"field":"x","type":"quantitative","scale":{"domain":[0,2]},"axis":{"title":null,"values":[0,0.2,0.4,0.6,0.8,1,1.2,1.4,1.6,1.8,2],"labelExpr":"datum.value == 0 ? '0' : datum.value == 1 ? '1' : datum.value == 2 ? '2' : ''"}},"y":{"field":"y","type":"quantitative","scale":{"domain":[-1,1]},"axis":{"title":null,"values":[-1,-0.8,-0.6,-0.4,-0.2,0,0.2,0.4,0.6,0.8,1],"labelExpr":"datum.value == -1 ? '-1' : datum.value == 0 ? '0' : datum.value == 1 ? '1' : ''"}}},
"layer":[
{"data":{"name":"grey"},"transform":[{"filter":"datum.p == 'c'"}],"mark":{"type":"area","color":"#e6e6e6"},"encoding":{"y2":{"datum":-1}}},
{"data":{"name":"pink"},"transform":[{"filter":"datum.p == 'c'"}],"mark":{"type":"area","opacity":1},"encoding":{"y2":{"field":"y2"},"color":{"field":"part","type":"nominal","scale":{"domain":["light","mid","dense"],"range":["#f5a8f5","#ee6fee","#e642e6"]},"legend":null}}},
{"data":{"name":"curves"},"transform":[{"filter":"indexof(datum.p,'c') >= 0"}],"mark":{"type":"line","color":"#000","strokeWidth":2},"encoding":{"detail":{"field":"c"},"order":{"value":null}}}
]},
{"width":106,"height":105,"title":"(d)",
"encoding":{"x":{"field":"x","type":"quantitative","scale":{"domain":[0,2]},"axis":{"title":null,"values":[0,0.2,0.4,0.6,0.8,1,1.2,1.4,1.6,1.8,2],"labelExpr":"datum.value == 0 ? '0' : datum.value == 1 ? '1' : datum.value == 2 ? '2' : ''"}},"y":{"field":"y","type":"quantitative","scale":{"domain":[-1,1]},"axis":{"title":null,"values":[-1,-0.8,-0.6,-0.4,-0.2,0,0.2,0.4,0.6,0.8,1],"labelExpr":"datum.value == -1 ? '-1' : datum.value == 0 ? '0' : datum.value == 1 ? '1' : ''"}}},
"layer":[
{"data":{"name":"grey"},"transform":[{"filter":"datum.p == 'd'"}],"mark":{"type":"area","color":"#e6e6e6"},"encoding":{"y2":{"datum":-1}}},
{"data":{"name":"curves"},"transform":[{"filter":"indexof(datum.p,'d') >= 0"}],"mark":{"type":"line","color":"#000","strokeWidth":2},"encoding":{"detail":{"field":"c"},"order":{"value":null}}},
{"data":{"name":"dots"},"transform":[{"filter":"indexof(datum.p,'d') >= 0"}],"mark":{"type":"point","filled":true,"color":"#ff00ff","opacity":1,"size":30},"encoding":{}}
]},
{"width":106,"height":105,"title":"(e)",
"encoding":{"x":{"field":"x","type":"quantitative","scale":{"domain":[0,2]},"axis":{"title":"(2 ϕₐ-ϕ_g)/ π","values":[0,0.2,0.4,0.6,0.8,1,1.2,1.4,1.6,1.8,2],"labelExpr":"datum.value == 0 ? '0' : datum.value == 1 ? '1' : datum.value == 2 ? '2' : ''"}},"y":{"field":"y","type":"quantitative","scale":{"domain":[-1,1]},"axis":{"title":null,"values":[-1,-0.8,-0.6,-0.4,-0.2,0,0.2,0.4,0.6,0.8,1],"labelExpr":"datum.value == -1 ? '-1' : datum.value == 0 ? '0' : datum.value == 1 ? '1' : ''"}}},
"layer":[
{"data":{"name":"grey"},"transform":[{"filter":"datum.p == 'e'"}],"mark":{"type":"area","color":"#e6e6e6"},"encoding":{"y2":{"datum":-1}}},
{"data":{"name":"pink"},"transform":[{"filter":"datum.p == 'e'"}],"mark":{"type":"area","opacity":1},"encoding":{"y2":{"field":"y2"},"color":{"field":"part","type":"nominal","scale":{"domain":["light","mid","dense"],"range":["#f5a8f5","#ee6fee","#e642e6"]},"legend":null}}},
{"data":{"name":"curves"},"transform":[{"filter":"indexof(datum.p,'e') >= 0"}],"mark":{"type":"line","color":"#000","strokeWidth":2},"encoding":{"detail":{"field":"c"},"order":{"value":null}}}
]},
{"width":106,"height":105,"title":"(f)",
"encoding":{"x":{"field":"x","type":"quantitative","scale":{"domain":[0,2]},"axis":{"title":null,"values":[0,0.2,0.4,0.6,0.8,1,1.2,1.4,1.6,1.8,2],"labelExpr":"datum.value == 0 ? '0' : datum.value == 1 ? '1' : datum.value == 2 ? '2' : ''"}},"y":{"field":"y","type":"quantitative","scale":{"domain":[-1,1]},"axis":{"title":null,"values":[-1,-0.8,-0.6,-0.4,-0.2,0,0.2,0.4,0.6,0.8,1],"labelExpr":"datum.value == -1 ? '-1' : datum.value == 0 ? '0' : datum.value == 1 ? '1' : ''"}}},
"layer":[
{"data":{"name":"grey"},"transform":[{"filter":"datum.p == 'f'"}],"mark":{"type":"area","color":"#e6e6e6"},"encoding":{"y2":{"datum":-1}}},
{"data":{"name":"curves"},"transform":[{"filter":"indexof(datum.p,'f') >= 0"}],"mark":{"type":"line","color":"#000","strokeWidth":2},"encoding":{"detail":{"field":"c"},"order":{"value":null}}},
{"data":{"name":"dots"},"transform":[{"filter":"indexof(datum.p,'f') >= 0"}],"mark":{"type":"point","filled":true,"color":"#ff00ff","opacity":1,"size":30},"encoding":{}}
]}
],
"config": {
"view": {"stroke": "#8c8c8c", "strokeWidth": 1},
"axis": {"domain": false, "grid": false, "ticks": true, "tickSize": -3, "tickColor": "#8c8c8c", "tickWidth": 1, "labelFont": "Liberation Sans", "labelFontSize": 14, "labelColor": "#262626", "labelFlush": false, "labelOverlap": false, "titleFont": "Liberation Sans", "titleFontSize": 15, "titleFontWeight": "bold", "titleColor": "#262626", "titlePadding": 5},
"axisX": {"labelPadding": 10},
"axisY": {"labelPadding": 10},
"title": {"font": "Liberation Sans", "fontSize": 17, "fontWeight": "bold", "color": "#000", "offset": 1, "anchor": "middle"}
}
}
